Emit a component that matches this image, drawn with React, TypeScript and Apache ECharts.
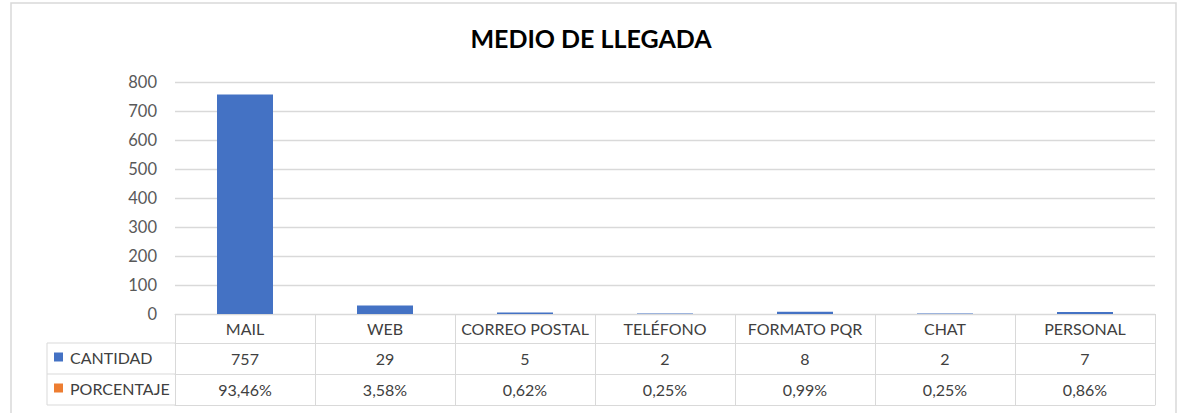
import React, { useEffect, useRef } from "react";
import * as echarts from "echarts";

const TITLE = "MEDIO DE LLEGADA";
const categories = ["MAIL", "WEB", "CORREO POSTAL", "TELÉFONO", "FORMATO PQR", "CHAT", "PERSONAL"];
const cantidad = [757, 29, 5, 2, 8, 2, 7];
const porcentajeLabels = ["93,46%", "3,58%", "0,62%", "0,25%", "0,99%", "0,25%", "0,86%"];
const porcentaje = [0.9346, 0.0358, 0.0062, 0.0025, 0.0099, 0.0025, 0.0086];
const seriesNames = ["CANTIDAD", "PORCENTAJE"];
const yTicks = { min: 0, max: 800, interval: 100 };

const W = 1182;
const H = 413;
const GRID_LEFT = 175;
const GRID_RIGHT_X = 1155;
const GRID_TOP = 82;
const GRID_BOTTOM_Y = 314;
const ROW1 = 29;
const ROW2 = 60;
const ROW3 = 91;
const TABLE_LEFT = 47;
const LINE = "#d9d9d9";
const FONT = "Lato, 'Open Sans', sans-serif";
const TXT = "#404040";

export default function App() {
  const ref = useRef<HTMLDivElement>(null);
  useEffect(() => {
    if (!ref.current) return;
    const chart = echarts.init(ref.current, null, { renderer: "svg" });
    const baseX = {
      type: "category" as const,
      data: categories,
      gridIndex: 0,
      position: "bottom" as const,
      axisLine: { show: true, lineStyle: { color: LINE, width: 1 } },
      axisTick: { show: false },
      splitLine: { show: false },
    };
    const labelStyle = { fontFamily: FONT, fontSize: 16, color: TXT, lineHeight: 18 };
    const y0 = GRID_BOTTOM_Y;
    chart.setOption({
      animation: false,
      textStyle: { fontFamily: FONT },
      title: {
        text: TITLE,
        left: "center",
        top: 20,
        textStyle: { fontFamily: FONT, fontSize: 25, fontWeight: "bold", color: "#000" },
      },
      legend: {
        data: [
          { name: seriesNames[0], itemStyle: { color: "#4472C4", opacity: 1 } },
          { name: seriesNames[1], itemStyle: { color: "#ED7D31", opacity: 1 } },
        ],
        orient: "vertical",
        left: 54,
        top: 349,
        icon: "rect",
        itemWidth: 9,
        itemHeight: 9,
        itemGap: 15,
        padding: 0,
        textStyle: { fontFamily: FONT, fontSize: 16, color: TXT, padding: [0, 0, 0, 2] },
        selectedMode: false,
      },
      grid: {
        left: GRID_LEFT,
        right: W - GRID_RIGHT_X,
        top: GRID_TOP,
        bottom: H - GRID_BOTTOM_Y,
        containLabel: false,
      },
      xAxis: [
        {
          ...baseX,
          axisTick: { show: true, interval: 0, length: ROW3, lineStyle: { color: LINE, width: 1 } },
          axisLabel: { ...labelStyle, interval: 0, margin: 5 },
        },
        {
          ...baseX,
          offset: ROW1,
          axisLabel: { ...labelStyle, interval: 0, margin: 6, formatter: (_v: string, i: number) => String(cantidad[i]) },
        },
        {
          ...baseX,
          offset: ROW2,
          axisLabel: { ...labelStyle, interval: 0, margin: 6, formatter: (_v: string, i: number) => porcentajeLabels[i] },
        },
        {
          ...baseX,
          offset: ROW3,
          axisLabel: { show: false },
        },
      ],
      yAxis: {
        type: "value",
        min: yTicks.min,
        max: yTicks.max,
        interval: yTicks.interval,
        axisLine: { show: false },
        axisTick: { show: false },
        splitLine: { show: true, lineStyle: { color: LINE, width: 1.3 } },
        axisLabel: { fontFamily: FONT, fontSize: 16.5, color: "#595959", margin: 18 },
      },
      series: [
        {
          name: seriesNames[0],
          type: "bar",
          data: cantidad,
          barWidth: "40%",
          barGap: "-100%",
          itemStyle: { color: "#4472C4" },
          z: 3,
        },
        {
          name: seriesNames[1],
          type: "bar",
          data: porcentaje,
          barWidth: "40%",
          itemStyle: { color: "#ED7D31", opacity: 0 },
          z: 2,
        },
      ],
      graphic: [
        {
          type: "rect",
          shape: { x: 11, y: 3, width: 1165, height: 430 },
          style: { fill: "none", stroke: LINE, lineWidth: 1.5 },
          silent: true,
        },
        {
          type: "line",
          shape: { x1: TABLE_LEFT, y1: y0 + ROW1, x2: GRID_LEFT, y2: y0 + ROW1 },
          style: { stroke: LINE, lineWidth: 1 },
        },
        {
          type: "line",
          shape: { x1: TABLE_LEFT, y1: y0 + ROW2, x2: GRID_LEFT, y2: y0 + ROW2 },
          style: { stroke: LINE, lineWidth: 1 },
        },
        {
          type: "line",
          shape: { x1: TABLE_LEFT, y1: y0 + ROW3, x2: GRID_LEFT, y2: y0 + ROW3 },
          style: { stroke: LINE, lineWidth: 1 },
        },
        {
          type: "line",
          shape: { x1: TABLE_LEFT, y1: y0 + ROW1, x2: TABLE_LEFT, y2: y0 + ROW3 },
          style: { stroke: LINE, lineWidth: 1 },
        },
      ],
    });
    return () => chart.dispose();
  }, []);
  return (
    <div
      ref={ref}
      style={{ position: "fixed", left: 0, top: 0, width: W, height: H, background: "#fff" }}
    />
  );
}
